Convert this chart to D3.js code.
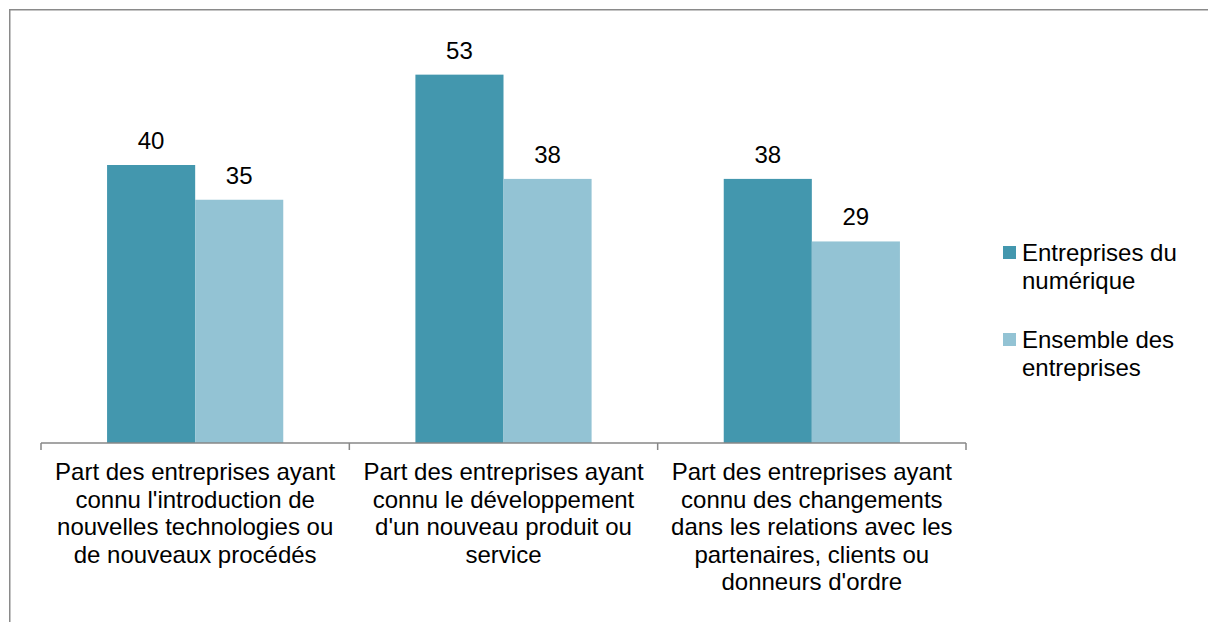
<!DOCTYPE html>
<html>
<head>
<meta charset="utf-8">
<script src="https://cdn.jsdelivr.net/npm/d3@7"></script>
<style>
  body { margin: 0; background: #fff; }
  svg { display: block; font-family: "Liberation Sans", Arial, sans-serif; }
</style>
</head>
<body>
<div id="chart"></div>
<script>
const categories = [
  ["Part des entreprises ayant", "connu l'introduction de", "nouvelles technologies ou", "de nouveaux procédés"],
  ["Part des entreprises ayant", "connu le développement", "d'un nouveau produit ou", "service"],
  ["Part des entreprises ayant", "connu des changements", "dans les relations avec les", "partenaires, clients ou", "donneurs d'ordre"]
];
const seriesNames = [["Entreprises du", "numérique"], ["Ensemble des", "entreprises"]];
const numerique = [40, 53, 38];
const ensemble = [35, 38, 29];
const colors = ["#4397ae", "#93c3d4"];

const width = 1208, height = 622;
const svg = d3.select("#chart").append("svg")
  .attr("width", width)
  .attr("height", height);

// frame
svg.append("path")
  .attr("d", `M9.75,${height + 2}V9.75H${width + 2}`)
  .attr("fill", "none")
  .attr("stroke", "#8a8a8a")
  .attr("stroke-width", 1.5);

const keys = categories.map((c, i) => i);
const x0 = d3.scaleBand().domain(keys).range([41, 966]);
const x1 = d3.scaleBand().domain([0, 1]).range([0, x0.bandwidth()]).paddingOuter(0.75);
const y = d3.scaleLinear().domain([0, 60]).range([443, 26]);

const rows = keys.map(i => [numerique[i], ensemble[i]]);

const g = svg.append("g");
const groups = g.selectAll("g.grp")
  .data(rows)
  .join("g")
  .attr("class", "grp")
  .attr("transform", (d, i) => `translate(${x0(i)},0)`);

groups.selectAll("rect")
  .data(d => d)
  .join("rect")
  .attr("x", (d, j) => x1(j))
  .attr("y", d => y(d))
  .attr("width", x1.bandwidth())
  .attr("height", d => y(0) - y(d))
  .attr("fill", (d, j) => colors[j]);

groups.selectAll("text")
  .data(d => d)
  .join("text")
  .attr("x", (d, j) => x1(j) + x1.bandwidth() / 2)
  .attr("y", d => y(d) - 16)
  .attr("text-anchor", "middle")
  .attr("font-size", 24)
  .attr("fill", "#000")
  .text(d => d);

// x axis
const axis = svg.append("g")
  .attr("transform", `translate(0,${y(0)})`)
  .call(d3.axisBottom(x0).tickSize(0).tickFormat(""));
axis.select(".domain").remove();
axis.selectAll(".tick").remove();

axis.append("line")
  .attr("x1", x0.range()[0]).attr("x2", x0.range()[1])
  .attr("stroke", "#878787").attr("stroke-width", 1.5);

const bounds = keys.map(i => x0(i)).concat([x0.range()[1]]);
axis.selectAll("line.tk")
  .data(bounds)
  .join("line")
  .attr("class", "tk")
  .attr("x1", d => d).attr("x2", d => d)
  .attr("y1", 0).attr("y2", 7)
  .attr("stroke", "#878787").attr("stroke-width", 1.5);

const labels = axis.selectAll("text.cat")
  .data(categories)
  .join("text")
  .attr("class", "cat")
  .attr("text-anchor", "middle")
  .attr("font-size", 24)
  .attr("fill", "#000");

labels.selectAll("tspan")
  .data((d, i) => d.map(line => ({ line, i })))
  .join("tspan")
  .attr("x", d => x0(d.i) + x0.bandwidth() / 2)
  .attr("y", (d, k) => 37 + k * 27.6)
  .text(d => d.line);

// legend
const legend = svg.append("g").attr("transform", "translate(1003,246)");
const item = legend.selectAll("g")
  .data(seriesNames)
  .join("g")
  .attr("transform", (d, i) => `translate(0,${i * 87})`);

item.append("rect")
  .attr("width", 13).attr("height", 13)
  .attr("fill", (d, i) => colors[i]);

item.append("text")
  .attr("font-size", 24)
  .attr("fill", "#000")
  .selectAll("tspan")
  .data(d => d)
  .join("tspan")
  .attr("x", 19)
  .attr("y", (d, k) => 15 + k * 27.6)
  .text(d => d);
</script>
</body>
</html>
